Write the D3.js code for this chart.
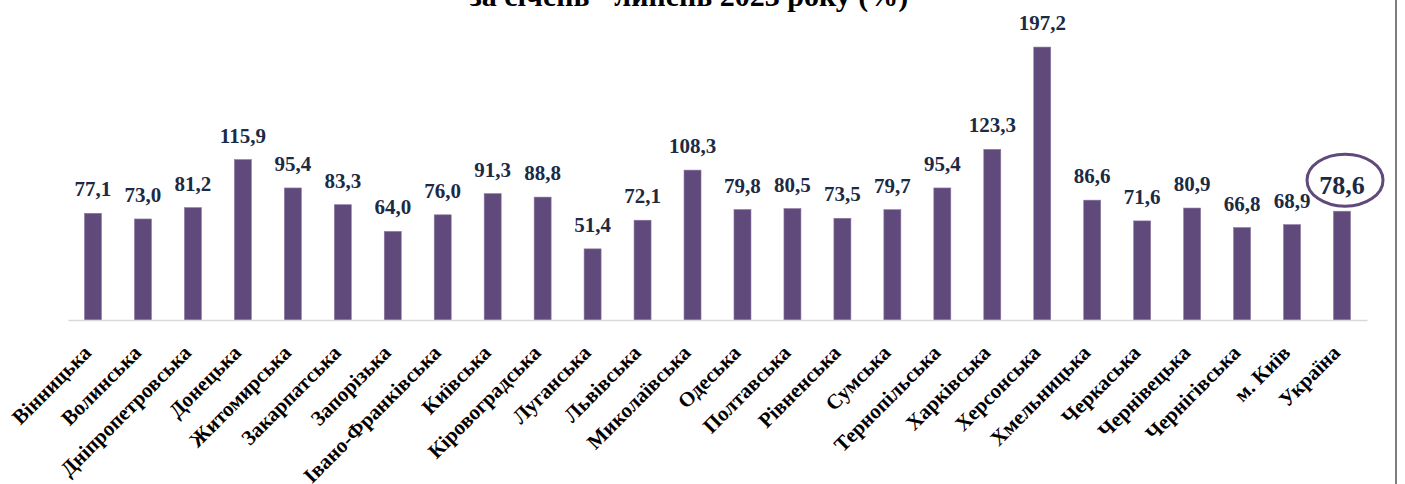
<!DOCTYPE html>
<html>
<head>
<meta charset="utf-8">
<script src="https://cdn.jsdelivr.net/npm/d3@7"></script>
<style>
  body { margin: 0; background: #fff; }
  svg { display: block; font-family: "Liberation Serif", "Times New Roman", serif; }
</style>
</head>
<body>
<svg id="chart"></svg>
<script>
// regions (Jan-Jul 2023), %
const regions = ["Вінницька", "Волинська", "Дніпропетровська", "Донецька", "Житомирська",
    "Закарпатська", "Запорізька", "Івано-Франківська", "Київська", "Кіровоградська",
    "Луганська", "Львівська", "Миколаївська", "Одеська", "Полтавська", "Рівненська",
    "Сумська", "Тернопільська", "Харківська", "Херсонська", "Хмельницька", "Черкаська",
    "Чернівецька", "Чернігівська", "м. Київ", "Україна"]
const values = [77.1, 73.0, 81.2, 115.9, 95.4, 83.3, 64.0, 76.0, 91.3, 88.8,
    51.4, 72.1, 108.3, 79.8, 80.5, 73.5, 79.7, 95.4, 123.3, 197.2, 86.6, 71.6,
    80.9, 66.8, 68.9, 78.6]
const highlight = "Україна"
const titleLine = "за січень - липень 2023 року (%)"

const width = 1405
const height = 484
const data = regions.map((r, i) => ({ region: r, value: values[i] }))

const svg = d3.select("#chart")
    .attr("width", width)
    .attr("height", height)

const x = d3.scaleBand()
    .domain(regions)
    .range([68, 1367])
    .paddingInner(0.66)
    .paddingOuter(0.33)

const y = d3.scaleLinear()
    .domain([0, 200])
    .range([320, 43.2])

// title (only its lower line shows, cut by the top edge as in the source)
svg.append("text")
    .attr("x", 689)
    .attr("y", 6)
    .attr("text-anchor", "middle")
    .attr("font-weight", "bold")
    .attr("font-size", 30)
    .attr("fill", "#000")
    .text(titleLine)

// right frame border
svg.append("line")
    .attr("x1", 1396).attr("x2", 1396)
    .attr("y1", 0).attr("y2", height)
    .attr("stroke", "#7f7f7f")
    .attr("stroke-width", 2)

svg.append("g")
    .selectAll("rect")
    .data(data)
    .join("rect")
    .attr("x", d => x(d.region))
    .attr("y", d => y(d.value))
    .attr("width", x.bandwidth())
    .attr("height", d => y(0) - y(d.value))
    .attr("fill", "#604a7b")
    .attr("stroke", "#8a78a3")
    .attr("stroke-width", 0.6)

// baseline
const xAxis = svg.append("g")
    .attr("transform", `translate(0,${y(0)})`)
    .call(d3.axisBottom(x).tickSize(0).tickPadding(0))

xAxis.select(".domain")
    .attr("stroke", "#d9d9d9")
    .attr("stroke-width", 1.5)

xAxis.selectAll(".tick text")
    .attr("font-family", "Liberation Serif, serif")
    .attr("font-size", 21)
    .attr("font-weight", "bold")
    .attr("fill", "#000")
    .attr("text-anchor", "end")
    .attr("dy", 0)
    .attr("transform", `translate(${x.bandwidth() / 2 - 9},34) rotate(-45)`)

// value labels
svg.append("g")
    .selectAll("text")
    .data(data)
    .join("text")
    .attr("x", d => x(d.region) + x.bandwidth() / 2)
    .attr("y", d => y(d.value) - 17)
    .attr("text-anchor", "middle")
    .attr("font-weight", "bold")
    .attr("font-size", d => d.region === highlight ? 26 : 21)
    .attr("fill", "#1c2a44")
    .text(d => d3.format(".1f")(d.value).replace(".", ","))

// circle around Ukraine value
const hl = data.find(d => d.region === highlight)
svg.append("ellipse")
    .attr("cx", x(hl.region) + x.bandwidth() / 2 + 3)
    .attr("cy", y(hl.value) - 31)
    .attr("rx", 38)
    .attr("ry", 26)
    .attr("fill", "none")
    .attr("stroke", "#604a7b")
    .attr("stroke-width", 3)
</script>
</body>
</html>
